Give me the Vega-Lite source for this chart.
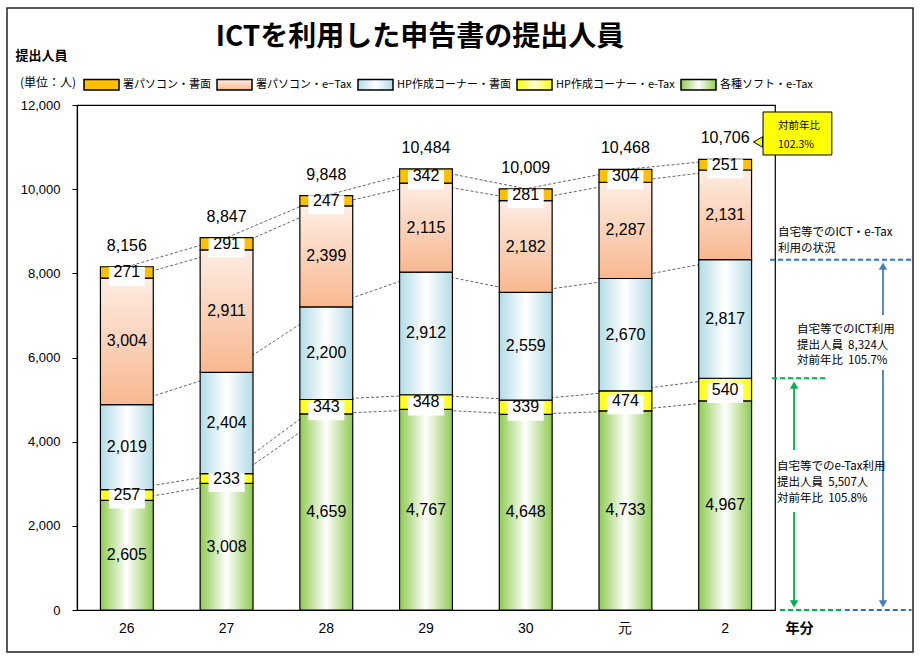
{
  "$schema": "https://vega.github.io/schema/vega-lite/v6.json",
  "width": 698,
  "height": 505,
  "autosize": {"type": "none"},
  "padding": {"left": 77, "top": 105, "right": 145, "bottom": 52},
  "background": "white",
  "config": {"view": {"stroke": "black", "strokeWidth": 1.2}, "font": "Noto Sans CJK JP"},
  "datasets": {
    "bars": [
      {"year": "26", "s": "各種ソフト・e-Tax", "v": 2605},
      {"year": "26", "s": "HP作成コーナー・e-Tax", "v": 257},
      {"year": "26", "s": "HP作成コーナー・書面", "v": 2019},
      {"year": "26", "s": "署パソコン・e−Tax", "v": 3004},
      {"year": "26", "s": "署パソコン・書面", "v": 271},
      {"year": "27", "s": "各種ソフト・e-Tax", "v": 3008},
      {"year": "27", "s": "HP作成コーナー・e-Tax", "v": 233},
      {"year": "27", "s": "HP作成コーナー・書面", "v": 2404},
      {"year": "27", "s": "署パソコン・e−Tax", "v": 2911},
      {"year": "27", "s": "署パソコン・書面", "v": 291},
      {"year": "28", "s": "各種ソフト・e-Tax", "v": 4659},
      {"year": "28", "s": "HP作成コーナー・e-Tax", "v": 343},
      {"year": "28", "s": "HP作成コーナー・書面", "v": 2200},
      {"year": "28", "s": "署パソコン・e−Tax", "v": 2399},
      {"year": "28", "s": "署パソコン・書面", "v": 247},
      {"year": "29", "s": "各種ソフト・e-Tax", "v": 4767},
      {"year": "29", "s": "HP作成コーナー・e-Tax", "v": 348},
      {"year": "29", "s": "HP作成コーナー・書面", "v": 2912},
      {"year": "29", "s": "署パソコン・e−Tax", "v": 2115},
      {"year": "29", "s": "署パソコン・書面", "v": 342},
      {"year": "30", "s": "各種ソフト・e-Tax", "v": 4648},
      {"year": "30", "s": "HP作成コーナー・e-Tax", "v": 339},
      {"year": "30", "s": "HP作成コーナー・書面", "v": 2559},
      {"year": "30", "s": "署パソコン・e−Tax", "v": 2182},
      {"year": "30", "s": "署パソコン・書面", "v": 281},
      {"year": "元", "s": "各種ソフト・e-Tax", "v": 4733},
      {"year": "元", "s": "HP作成コーナー・e-Tax", "v": 474},
      {"year": "元", "s": "HP作成コーナー・書面", "v": 2670},
      {"year": "元", "s": "署パソコン・e−Tax", "v": 2287},
      {"year": "元", "s": "署パソコン・書面", "v": 304},
      {"year": "2", "s": "各種ソフト・e-Tax", "v": 4967},
      {"year": "2", "s": "HP作成コーナー・e-Tax", "v": 540},
      {"year": "2", "s": "HP作成コーナー・書面", "v": 2817},
      {"year": "2", "s": "署パソコン・e−Tax", "v": 2131},
      {"year": "2", "s": "署パソコン・書面", "v": 251}
    ],
    "ann": [
      {"k": "frame", "x": -0.702, "x2": 8.384, "y": 14305, "y2": -998},
      {"k": "title", "x": 3.44, "y": 13592, "t": "ICTを利用した申告書の提出人員"},
      {"k": "unit", "x": -0.572, "y": 12523, "t": "(単位：人)"},
      {"k": "bdash", "x": 6.95, "x2": 8.37, "y": 8324, "y2": 8324},
      {"k": "bdash", "x": 7.70, "x2": 8.37, "y": 0, "y2": 0},
      {"k": "gdash", "x": 6.97, "x2": 7.53, "y": 5507, "y2": 5507},
      {"k": "gdash", "x": 7.05, "x2": 7.68, "y": 0, "y2": 0},
      {"k": "bline", "x": 8.083, "x2": 8.083, "y": 8100, "y2": 7010},
      {"k": "bline", "x": 8.083, "x2": 8.083, "y": 5703, "y2": 200},
      {"k": "gline", "x": 7.191, "x2": 7.191, "y": 5300, "y2": 3802},
      {"k": "gline", "x": 7.191, "x2": 7.191, "y": 2329, "y2": 200},
      {"k": "bup", "x": 8.083, "y": 8174},
      {"k": "bdown", "x": 8.083, "y": 143},
      {"k": "gup", "x": 7.191, "y": 5346},
      {"k": "gdown", "x": 7.191, "y": 143},
      {"k": "ptr", "x": 6.83, "y": 11121},
      {"k": "box", "x": 6.88, "x2": 7.57, "y": 11834, "y2": 10812},
      {"k": "ctxt", "x": 7.03, "y": 11501, "t": "対前年比"},
      {"k": "ctxt", "x": 7.03, "y": 11049, "t": "102.3%"},
      {"k": "txt", "x": 7.03, "y": 8958, "t": "自宅等でのICT・e-Tax"},
      {"k": "txt", "x": 7.03, "y": 8578, "t": "利用の状況"},
      {"k": "txt", "x": 7.22, "y": 6653, "t": "自宅等でのICT利用"},
      {"k": "txt", "x": 7.22, "y": 6285, "t": "提出人員\u00a0\u00a08,324人"},
      {"k": "txt", "x": 7.22, "y": 5917, "t": "対前年比\u00a0\u00a0105.7%"},
      {"k": "txt", "x": 7.02, "y": 3398, "t": "自宅等でのe-Tax利用"},
      {"k": "txt", "x": 7.02, "y": 3018, "t": "提出人員\u00a0\u00a05,507人"},
      {"k": "txt", "x": 7.02, "y": 2638, "t": "対前年比\u00a0\u00a0105.8%"}
    ]
  },
  "layer": [
    {
      "data": {"name": "bars"},
      "transform": [
        {"calculate": "indexof(['各種ソフト・e-Tax','HP作成コーナー・e-Tax','HP作成コーナー・書面','署パソコン・e−Tax','署パソコン・書面'], datum.s)", "as": "rank"},
        {"calculate": "indexof(['26','27','28','29','30','元','2'], datum.year)", "as": "yi"},
        {"stack": "v", "groupby": ["year"], "sort": [{"field": "rank", "order": "ascending"}], "as": ["y0", "y1"]},
        {"calculate": "(datum.y0 + datum.y1) / 2", "as": "mid"}
      ],
      "encoding": {
        "x": {
          "field": "year", "type": "ordinal",
          "sort": ["26", "27", "28", "29", "30", "元", "2"],
          "scale": {"domain": ["26", "27", "28", "29", "30", "元", "2"], "paddingInner": 0.47, "paddingOuter": 0.235},
          "axis": {
            "title": "年分", "labelAngle": 0, "labelFontSize": 14, "labelFont": "Liberation Sans", "labelColor": "black",
            "labelPadding": 11, "ticks": false, "tickSize": 0, "domainColor": "black", "domainWidth": 1.2,
            "titleX": 708, "titleY": 18, "titleAlign": "left", "titleBaseline": "middle", "titleFontSize": 14,
            "titleFont": "Noto Sans CJK JP", "titleFontWeight": "bold", "titleColor": "black"
          }
        }
      },
      "layer": [
        {
          "mark": {"type": "line", "color": "#404040", "strokeWidth": 0.8, "strokeDash": [3, 2]},
          "encoding": {
            "y": {"field": "y1", "type": "quantitative", "title": "提出人員", "scale": {"domain": [0, 12000], "nice": false}},
            "detail": {"field": "s"},
            "order": {"field": "yi", "type": "quantitative"}
          }
        },
        {
          "mark": {"type": "bar", "stroke": "black", "strokeWidth": 1.2},
          "encoding": {
            "y": {
              "field": "y0", "type": "quantitative", "title": "提出人員",
              "scale": {"domain": [0, 12000], "nice": false},
              "axis": {
                "values": [0, 2000, 4000, 6000, 8000, 10000, 12000], "labelExpr": "format(datum.value, ',')", "grid": false,
                "labelFontSize": 13, "labelFont": "Liberation Sans", "labelColor": "black", "labelPadding": 12,
                "tickSize": 5, "tickColor": "black", "domainColor": "black", "domainWidth": 1.2,
                "titleAngle": 0, "titleX": -62, "titleY": -50, "titleAlign": "left", "titleBaseline": "middle",
                "titleFontSize": 13, "titleFontWeight": "bold", "titleColor": "black"
              }
            },
            "y2": {"field": "y1"},
            "color": {
              "field": "s", "type": "nominal",
              "scale": {
                "domain": ["署パソコン・書面", "署パソコン・e−Tax", "HP作成コーナー・書面", "HP作成コーナー・e-Tax", "各種ソフト・e-Tax"],
                "range": [
                  "#FFC000",
                  {"expr": "{gradient: 'linear', x1: 0, y1: 0, x2: 0, y2: 1, stops: [{offset: 0, color: '#FDEDE3'}, {offset: 1, color: '#F8B890'}]}"},
                  {"expr": "{gradient: 'linear', x1: 0, y1: 0, x2: 1, y2: 0, stops: [{offset: 0, color: '#B2DCE7'}, {offset: 0.5, color: '#FFFFFF'}, {offset: 1, color: '#B2DCE7'}]}"},
                  {"expr": "{gradient: 'linear', x1: 0, y1: 0, x2: 1, y2: 0, stops: [{offset: 0, color: '#FFFF00'}, {offset: 0.5, color: '#FFFFD8'}, {offset: 1, color: '#FFFF00'}]}"},
                  {"expr": "{gradient: 'linear', x1: 0, y1: 0, x2: 1, y2: 0, stops: [{offset: 0, color: '#8FCB52'}, {offset: 0.5, color: '#FFFFFF'}, {offset: 1, color: '#8FCB52'}]}"}
                ]
              },
              "legend": {
                "orient": "none", "legendX": 6, "legendY": -39, "direction": "horizontal",
                "title": null,
                "symbolType": "M-1,-0.3H1V0.3H-1Z", "symbolSize": 1225, "symbolStrokeColor": "black",
                "symbolStrokeWidth": 1.5, "symbolOpacity": 1,
                "labelFontSize": 11, "labelFont": "Noto Sans CJK JP", "labelColor": "black",
                "labelOffset": 3, "columnPadding": 3, "labelLimit": 0
              }
            }
          }
        },
        {
          "transform": [{"filter": "datum.rank == 4 || datum.rank == 1"}],
          "mark": {"type": "point", "shape": "M-1,-0.3H1V0.75H-1Z", "size": 1296, "filled": true, "fill": "white", "opacity": 1, "strokeWidth": 0},
          "encoding": {
            "y": {"field": "mid", "type": "quantitative", "title": "提出人員", "scale": {"domain": [0, 12000], "nice": false}}
          }
        },
        {
          "mark": {"type": "text", "fontSize": 16, "font": "Liberation Sans", "baseline": "middle", "color": "black"},
          "encoding": {
            "y": {"field": "mid", "type": "quantitative", "title": "提出人員", "scale": {"domain": [0, 12000], "nice": false}},
            "text": {"field": "v", "type": "quantitative", "format": ","}
          }
        },
        {
          "transform": [{"filter": "datum.rank == 4"}],
          "mark": {"type": "text", "fontSize": 16, "font": "Liberation Sans", "baseline": "middle", "dy": -21, "color": "black"},
          "encoding": {
            "y": {"field": "y1", "type": "quantitative", "title": "提出人員", "scale": {"domain": [0, 12000], "nice": false}},
            "text": {"field": "y1", "type": "quantitative", "format": ","}
          }
        }
      ]
    },
    {
      "data": {"name": "ann"},
      "encoding": {
        "x": {"field": "x", "type": "quantitative", "scale": {"domain": [0, 7], "nice": false, "zero": false}, "axis": null},
        "y": {"field": "y", "type": "quantitative", "title": "提出人員", "scale": {"domain": [0, 12000], "nice": false}}
      },
      "layer": [
        {
          "transform": [{"filter": "datum.k == 'frame'"}],
          "mark": {"type": "rect", "filled": false, "stroke": "#222222", "strokeWidth": 1.5},
          "encoding": {"x2": {"field": "x2"}, "y2": {"field": "y2"}}
        },
        {
          "transform": [{"filter": "datum.k == 'bdash'"}],
          "mark": {"type": "rule", "color": "#2E75B6", "strokeWidth": 2, "strokeDash": [5, 3]},
          "encoding": {"x2": {"field": "x2"}, "y2": {"field": "y2"}}
        },
        {
          "transform": [{"filter": "datum.k == 'gdash'"}],
          "mark": {"type": "rule", "color": "#00B050", "strokeWidth": 2, "strokeDash": [5, 3]},
          "encoding": {"x2": {"field": "x2"}, "y2": {"field": "y2"}}
        },
        {
          "transform": [{"filter": "datum.k == 'bline'"}],
          "mark": {"type": "rule", "color": "#4A7EBB", "strokeWidth": 1.8},
          "encoding": {"x2": {"field": "x2"}, "y2": {"field": "y2"}}
        },
        {
          "transform": [{"filter": "datum.k == 'gline'"}],
          "mark": {"type": "rule", "color": "#00B050", "strokeWidth": 1.8},
          "encoding": {"x2": {"field": "x2"}, "y2": {"field": "y2"}}
        },
        {
          "transform": [{"filter": "datum.k == 'bup'"}],
          "mark": {"type": "point", "shape": "triangle-up", "size": 70, "filled": true, "color": "#4A7EBB", "opacity": 1}
        },
        {
          "transform": [{"filter": "datum.k == 'bdown'"}],
          "mark": {"type": "point", "shape": "triangle-down", "size": 70, "filled": true, "color": "#4A7EBB", "opacity": 1}
        },
        {
          "transform": [{"filter": "datum.k == 'gup'"}],
          "mark": {"type": "point", "shape": "triangle-up", "size": 70, "filled": true, "color": "#00B050", "opacity": 1}
        },
        {
          "transform": [{"filter": "datum.k == 'gdown'"}],
          "mark": {"type": "point", "shape": "triangle-down", "size": 70, "filled": true, "color": "#00B050", "opacity": 1}
        },
        {
          "transform": [{"filter": "datum.k == 'ptr'"}],
          "mark": {"type": "point", "shape": "triangle-left", "size": 110, "filled": true, "fill": "#FFFF00", "stroke": "black", "strokeWidth": 1, "opacity": 1}
        },
        {
          "transform": [{"filter": "datum.k == 'box'"}],
          "mark": {"type": "rect", "fill": "#FFFF00", "stroke": "black", "strokeWidth": 1},
          "encoding": {"x2": {"field": "x2"}, "y2": {"field": "y2"}}
        },
        {
          "transform": [{"filter": "datum.k == 'ctxt'"}],
          "mark": {"type": "text", "fontSize": 10.5, "align": "left", "baseline": "middle", "color": "black", "font": "Noto Sans CJK JP"},
          "encoding": {"text": {"field": "t"}}
        },
        {
          "transform": [{"filter": "datum.k == 'txt'"}],
          "mark": {"type": "text", "fontSize": 11.5, "align": "left", "baseline": "middle", "color": "black", "font": "Noto Sans CJK JP"},
          "encoding": {"text": {"field": "t"}}
        },
        {
          "transform": [{"filter": "datum.k == 'unit'"}],
          "mark": {"type": "text", "fontSize": 12, "align": "left", "baseline": "middle", "color": "black", "font": "Noto Sans CJK JP"},
          "encoding": {"text": {"field": "t"}}
        },
        {
          "transform": [{"filter": "datum.k == 'title'"}],
          "mark": {"type": "text", "fontSize": 28, "fontWeight": "bold", "align": "center", "baseline": "middle", "color": "black", "font": "Noto Sans CJK JP"},
          "encoding": {"text": {"field": "t"}}
        }
      ]
    }
  ],
  "resolve": {"scale": {"x": "independent"}, "axis": {"x": "independent"}}
}
